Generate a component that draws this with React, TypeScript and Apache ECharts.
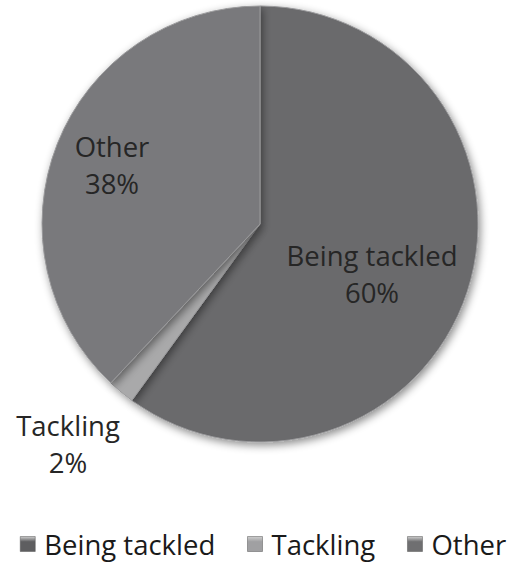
import React, { useEffect, useRef } from "react";
import * as echarts from "echarts";

const categories = ["Being tackled", "Tackling", "Other"];
const values = [60, 2, 38];
const colors = ["#6a6a6c", "#a9a9aa", "#79797b"];
const legendColors = ["#5e5e60", "#a0a0a2", "#6f6f71"];

const FONT = "Open Sans";

export default function App() {
  const ref = useRef<HTMLDivElement>(null);
  useEffect(() => {
    if (!ref.current) return;
    const chart = echarts.init(ref.current, null, { renderer: "svg" });
    const labelPos: Record<number, [number, number]> = {
      0: [372, 274],
      1: [68, 444],
      2: [112, 165],
    };
    chart.setOption({
      animation: false,
      backgroundColor: "#ffffff",
      legend: {
        left: 15,
        top: 525,
        itemWidth: 15,
        itemHeight: 15,
        itemGap: 32,
        icon: "rect",
        textStyle: {
          fontFamily: FONT,
          fontSize: 27.5,
          color: "#1a1a1a",
          padding: [0, 0, 0, 4],
        },
        data: categories.map((c, i) => ({
          name: c,
          itemStyle: {
            color: new echarts.graphic.LinearGradient(0, 0, 0, 1, [
              { offset: 0, color: "#cfcfcf" },
              { offset: 0.35, color: legendColors[i] },
              { offset: 1, color: legendColors[i] },
            ]),
            borderColor: "#555",
            borderWidth: 0.5,
          },
        })),
      },
      series: [
        {
          type: "pie",
          center: [260, 224],
          radius: [0, 218],
          startAngle: 90,
          clockwise: true,
          avoidLabelOverlap: false,
          data: categories.map((c, i) => ({
            name: c,
            value: values[i],
            itemStyle: {
              color: colors[i],
            },
          })),
          itemStyle: {
            borderColor: "#9a9a9c",
            borderWidth: 1,
            shadowColor: "rgba(0,0,0,0.45)",
            shadowBlur: 8,
            shadowOffsetX: 2,
            shadowOffsetY: 3,
          },
          label: {
            show: true,
            position: "inside",
            formatter: "{b}\n{d}%",
            fontFamily: FONT,
            fontSize: 27.5,
            lineHeight: 37,
            color: "#262626",
            align: "center",
          },
          labelLine: { show: false },
          labelLayout: (params: any) => {
            const p = labelPos[params.dataIndex];
            return {
              x: p[0],
              y: p[1],
              align: "center",
              verticalAlign: "middle",
            };
          },
          emphasis: { disabled: true },
        },
      ],
    });
    return () => chart.dispose();
  }, []);
  return (
    <div
      ref={ref}
      style={{ position: "fixed", left: 0, top: 0, width: 517, height: 562 }}
    />
  );
}
